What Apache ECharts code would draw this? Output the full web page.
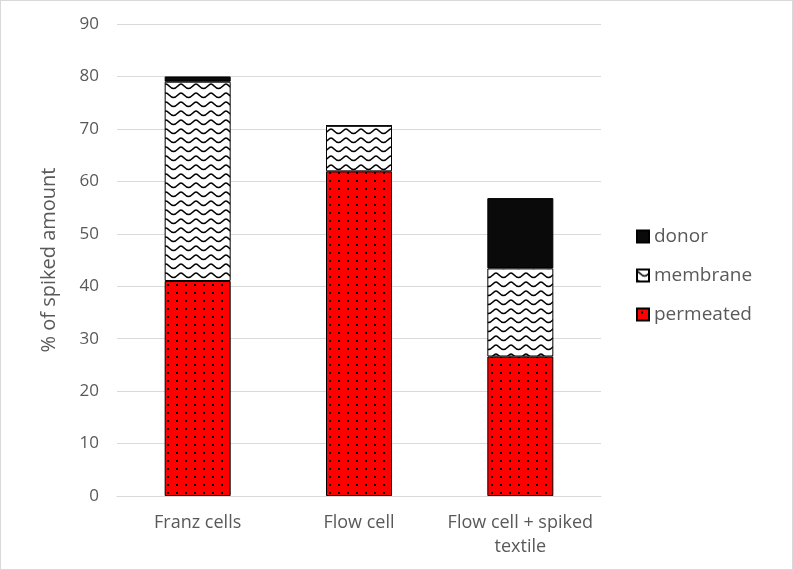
<!DOCTYPE html>
<html>
<head>
<meta charset="utf-8">
<script src="https://cdn.jsdelivr.net/npm/echarts@6/dist/echarts.min.js"></script>
<style>
html,body{margin:0;padding:0;background:#fff;}
#chart{width:793px;height:570px;box-sizing:border-box;border:1px solid #d9d9d9;}
</style>
</head>
<body>
<div id="chart"></div>
<script>
const categories = ['Franz cells', 'Flow cell', 'Flow cell + spiked\ntextile'];
const permeated = [41.0, 61.9, 26.6];
const membrane = [38.0, 8.7, 16.8];
const donor = [1.0, 0, 13.4];
const yTicks = [0, 10, 20, 30, 40, 50, 60, 70, 80, 90];

function dotPattern() {
  const c = document.createElement('canvas');
  c.width = 9; c.height = 8;
  const g = c.getContext('2d');
  g.fillStyle = '#ff0000';
  g.fillRect(0, 0, 9, 8);
  g.fillStyle = '#000';
  g.fillRect(4, 3, 2, 2);
  return c;
}
function wavePattern() {
  const c = document.createElement('canvas');
  c.width = 15; c.height = 9;
  const g = c.getContext('2d');
  g.fillStyle = '#fff';
  g.fillRect(0, 0, 15, 9);
  g.strokeStyle = '#000';
  g.lineWidth = 1.6;
  g.beginPath();
  g.moveTo(0, 2);
  g.bezierCurveTo(2.5, 2, 4, 6.5, 7.5, 6.5);
  g.bezierCurveTo(11, 6.5, 12.5, 2, 15, 2);
  g.stroke();
  return c;
}

const chart = echarts.init(document.getElementById('chart'), null, {renderer: 'canvas'});
const txt = '#595959';
const font = 'Open Sans';
const border = {borderColor: '#000', borderWidth: 1};
chart.setOption({
  animation: false,
  backgroundColor: '#fff',
  grid: {left: 116, right: 191, top: 23, bottom: 73},
  legend: {
    orient: 'vertical',
    left: 630,
    top: 221,
    icon: 'rect',
    itemWidth: 12,
    itemHeight: 12,
    itemGap: 20,
    data: ['donor', 'membrane', 'permeated'],
    textStyle: {color: txt, fontSize: 19, fontFamily: font}
  },
  xAxis: {
    type: 'category',
    data: categories,
    axisLine: {lineStyle: {color: '#d9d9d9'}},
    axisTick: {show: false},
    axisLabel: {interval: 0, color: txt, fontSize: 18, fontFamily: font, margin: 15, lineHeight: 24}
  },
  yAxis: {
    type: 'value',
    min: yTicks[0],
    max: yTicks[yTicks.length - 1],
    interval: 10,
    name: '% of spiked amount',
    nameLocation: 'middle',
    nameGap: 58,
    nameTextStyle: {color: txt, fontSize: 20, fontFamily: font},
    axisLine: {show: false},
    axisTick: {show: false},
    splitLine: {lineStyle: {color: '#d9d9d9'}},
    axisLabel: {color: txt, fontSize: 17, fontFamily: font, margin: 18}
  },
  series: [
    {name: 'permeated', type: 'bar', stack: 's', barWidth: 66, data: permeated,
     itemStyle: Object.assign({color: {image: dotPattern(), repeat: 'repeat'}}, border)},
    {name: 'membrane', type: 'bar', stack: 's', barWidth: 66, data: membrane,
     itemStyle: Object.assign({color: {image: wavePattern(), repeat: 'repeat'}}, border)},
    {name: 'donor', type: 'bar', stack: 's', barWidth: 66, data: donor,
     itemStyle: Object.assign({color: '#0a0a0a'}, border)}
  ]
});
</script>
</body>
</html>
